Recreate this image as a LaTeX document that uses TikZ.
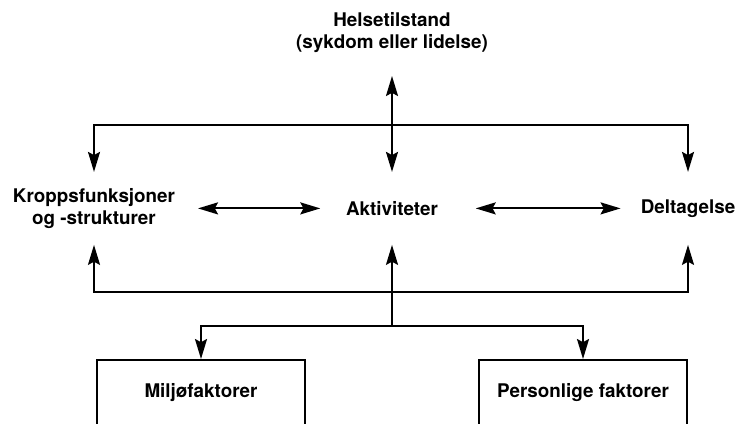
\documentclass[tikz,border=0pt]{standalone}
\usepackage{fontspec}
\setmainfont{TeX Gyre Heros}
\usetikzlibrary{arrows.meta}
\begin{document}
\begin{tikzpicture}[
  line width=1.4pt,
  >={Stealth[length=0.5cm,width=0.3cm,inset=0.08cm]},
  lbl/.style={font=\fontsize{13.4}{15.6}\selectfont\bfseries,align=center,inner sep=0pt},
  midt/.style={lbl,minimum height=1.775cm},
  faktor/.style={lbl,draw,minimum width=5.2cm,minimum height=1.65cm}
]
\useasboundingbox (0,0) rectangle (18.425,10.6);
\node[lbl] (helse) at (9.8,9.775) {Helsetilstand\\(sykdom eller lidelse)};
\node[midt] (kropp) at (2.35,5.39) {Kroppsfunksjoner\\og -strukturer};
\node[midt] (aktiv) at (9.8,5.39) {Aktiviteter};
\node[midt] (delt) at (17.2,5.39) {Deltagelse};
\node[faktor] (milj) at (5.025,0.775) {Miljøfaktorer};
\node[faktor] (pers) at (14.575,0.775) {Personlige faktorer};
\coordinate (over) at (9.8,7.475);
\coordinate (under) at (9.8,3.3);
\coordinate (deling) at (9.8,2.45);
% helsetilstand og de tre midterste
\draw[<->,shorten <=0.55cm] (helse) -- (aktiv);
\draw[<->] (kropp) |- (over) -| (delt);
\draw[<->] (kropp) |- (under) -| (delt);
\draw[<->,shorten <=0.55cm,shorten >=0.62cm] (kropp) -- (aktiv);
\draw[<->,shorten <=0.92cm,shorten >=0.48cm] (aktiv) -- (delt);
% faktorene
\draw[->] (deling) -- (aktiv);
\draw[->] (deling) -| (milj);
\draw[->] (deling) -| (pers);
\end{tikzpicture}
\end{document}
